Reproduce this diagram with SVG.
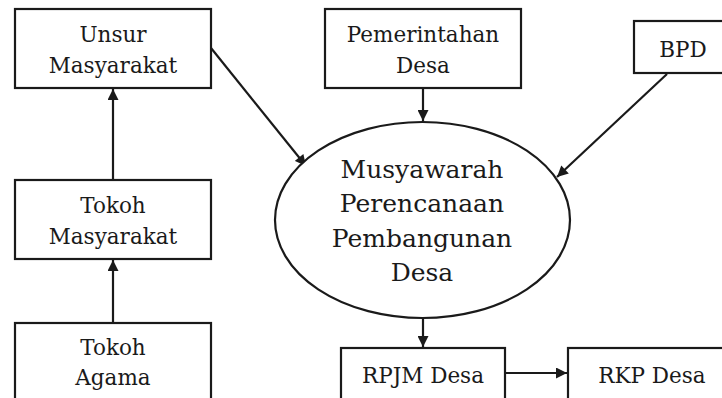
<svg xmlns="http://www.w3.org/2000/svg" width="722" height="398" viewBox="0 0 722 398">
<style>
.box{fill:#fff;stroke:#1a1a1a;stroke-width:2.2}
.t{font-family:"DejaVu Serif",serif;font-size:21.5px;fill:#1a1a1a;text-anchor:middle}
.big{font-size:25px}
.c{stroke:#1a1a1a;stroke-width:2.2;fill:none;marker-end:url(#ah)}
</style>
<defs>
<marker id="ah" viewBox="0 0 10 10" refX="10" refY="5" markerWidth="5.5" markerHeight="5" orient="auto" markerUnits="strokeWidth">
<path d="M0,0 L10,5 L0,10 z" fill="#1a1a1a"/>
</marker>
</defs>
<rect width="722" height="398" fill="#fff"/>
<g id="connectors">
<line class="c" x1="113" y1="180" x2="113" y2="89"/>
<line class="c" x1="113" y1="323" x2="113" y2="260"/>
<line class="c" x1="211" y1="48" x2="306" y2="166"/>
<line class="c" x1="423" y1="88" x2="423" y2="121"/>
<line class="c" x1="667" y1="74" x2="557" y2="177"/>
<line class="c" x1="423" y1="318" x2="423" y2="347"/>
<line class="c" x1="505" y1="373" x2="567" y2="373"/>
</g>
<g id="unsur">
<rect class="box" x="15" y="9" width="196" height="79"/>
<text class="t" x="113" y="42">Unsur</text>
<text class="t" x="113" y="73">Masyarakat</text>
</g>
<g id="tokoh-masyarakat">
<rect class="box" x="15" y="180" width="196" height="79"/>
<text class="t" x="113" y="213">Tokoh</text>
<text class="t" x="113" y="244">Masyarakat</text>
</g>
<g id="tokoh-agama">
<rect class="box" x="15" y="323" width="196" height="90"/>
<text class="t" x="113" y="355">Tokoh</text>
<text class="t" x="113" y="385">Agama</text>
</g>
<g id="pemerintahan">
<rect class="box" x="325" y="9" width="196" height="79"/>
<text class="t" x="423" y="42">Pemerintahan</text>
<text class="t" x="423" y="73">Desa</text>
</g>
<g id="bpd">
<rect class="box" x="634" y="21" width="100" height="52"/>
<text class="t" x="683" y="57">BPD</text>
</g>
<g id="musyawarah">
<ellipse class="box" cx="422.5" cy="220" rx="147.5" ry="98"/>
<text class="t big" x="422" y="178">Musyawarah</text>
<text class="t big" x="422" y="212">Perencanaan</text>
<text class="t big" x="422" y="247">Pembangunan</text>
<text class="t big" x="422" y="281">Desa</text>
</g>
<g id="rpjm">
<rect class="box" x="341" y="348" width="164" height="60"/>
<text class="t" x="423" y="383">RPJM Desa</text>
</g>
<g id="rkp">
<rect class="box" x="568" y="348" width="170" height="60"/>
<text class="t" x="652" y="383">RKP Desa</text>
</g>
</svg>
